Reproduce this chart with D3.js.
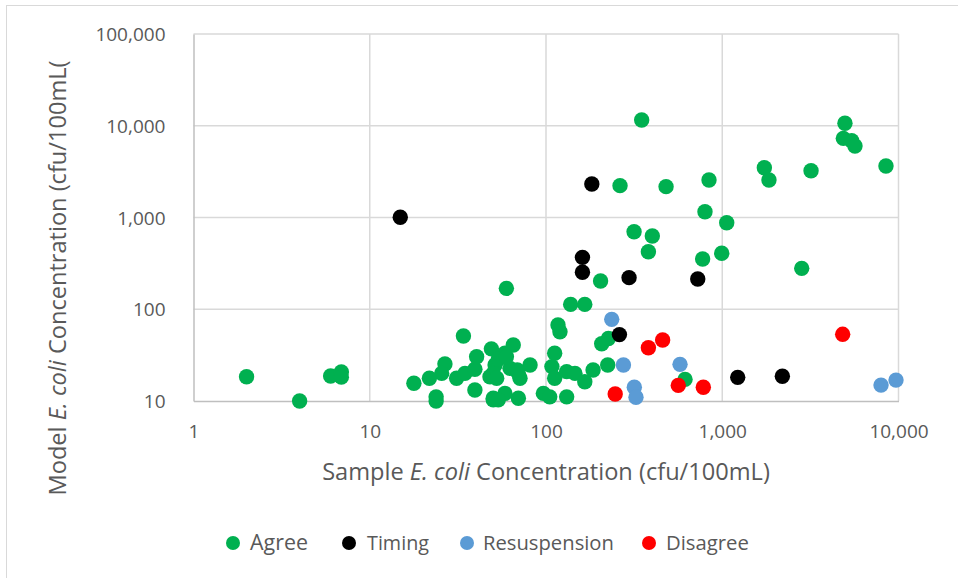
<!DOCTYPE html>
<html><head><meta charset="utf-8">
<script src="https://cdn.jsdelivr.net/npm/d3@7"></script>
<style>body{margin:0;background:#fff}svg{display:block}</style>
</head><body><svg id="c" width="958" height="578"></svg>
<script>
const seriesNames = ["Agree", "Timing", "Resuspension", "Disagree"];
const seriesColors = ["#00B050", "#000000", "#5B9BD5", "#FF0000"];
const xTicks = [1, 10, 100, 1000, 10000];
const yTicks = [10, 100, 1000, 10000, 100000];

const agree = [
  [2, 18.4], [4, 10], [6, 18.7], [6.9, 20.7], [6.9, 18.2],
  [17.8, 15.6], [21.8, 17.7], [23.8, 11.1], [23.8, 10], [26.7, 25.3],
  [25.6, 20.0], [31.1, 17.7], [34.0, 51.1], [34.7, 20.0], [39.5, 22.2],
  [40.4, 30.4], [49, 37], [39.5, 13.2], [48.1, 18.4], [50.2, 10.3],
  [51.4, 24.7], [58.5, 33.1], [65.2, 40.8], [50.2, 20.0], [52.5, 17.7],
  [62.5, 22.7], [69.7, 20.0], [71.2, 17.7], [81.2, 24.7], [58.5, 12.1],
  [50.2, 10.7], [69.7, 10.7], [96.6, 12.1], [105, 11.1], [112, 33.1],
  [108, 23.7], [112, 17.7], [117, 67.3], [120, 56.9], [131, 20.9],
  [146, 20.0], [166, 16.2], [185, 21.8], [131, 11.1], [207, 42],
  [224, 24.7], [226, 48], [53.6, 28.5], [59.6, 30.4], [68.7, 21.8],
  [53.6, 10.3], [59.6, 169], [138, 113], [166, 113], [204, 203],
  [349, 11570], [263, 2223], [480, 2168], [841, 2566], [798, 1157],
  [1060, 877], [316, 700], [401, 628], [381, 424], [774, 353],
  [993, 408], [2824, 279], [615, 17.2], [1733, 3491], [1841, 2566],
  [3190, 3235], [4968, 10640], [4864, 7290], [5423, 6870], [5663, 6010],
  [8490, 3640]
];
const timing = [
  [14.9, 1005], [182, 2317], [161, 368], [161, 253], [296, 221],
  [726, 214], [261, 52.9], [1224, 18.1], [2193, 18.6]
];
const resuspension = [
  [236, 77.6], [275, 24.7], [317, 14.1], [324, 11.0], [576, 25.1],
  [7960, 14.9], [9680, 16.9]
];
const disagree = [
  [247, 11.9], [381, 38.1], [459, 46.3], [563, 14.8], [781, 14.1], [4822, 53.3]
];
const seriesData = [agree, timing, resuspension, disagree];

const svg = d3.select("#c");
const fmt = d3.format(",");
const font = "'Open Sans', sans-serif";
const textCol = "#595959";

// chart border
svg.append("rect").attr("x", 6.5).attr("y", 5.5).attr("width", 1000).attr("height", 1000)
  .attr("fill", "none").attr("stroke", "#d9d9d9");

const L = 193.5, R = 898.5, T = 34, B = 401;
const x = d3.scaleLog().domain([1, 10000]).range([L, R]);
const y = d3.scaleLog().domain([10, 100000]).range([B, T]);

// gridlines
svg.append("g").selectAll("line").data(xTicks.slice(1)).join("line")
  .attr("x1", d => x(d)).attr("x2", d => x(d)).attr("y1", T).attr("y2", B)
  .attr("stroke", "#d9d9d9").attr("stroke-width", 1.5);
svg.append("g").selectAll("line").data(yTicks.slice(1)).join("line")
  .attr("x1", L).attr("x2", R).attr("y1", d => y(d)).attr("y2", d => y(d))
  .attr("stroke", "#d9d9d9").attr("stroke-width", 1.5);

// axes
const xAxis = svg.append("g").attr("transform", `translate(0,${B})`)
  .call(d3.axisBottom(x).tickValues(xTicks).tickFormat(fmt).tickSize(0).tickPadding(24));
const yAxis = svg.append("g").attr("transform", `translate(${L},0)`)
  .call(d3.axisLeft(y).tickValues(yTicks).tickFormat(fmt).tickSize(0).tickPadding(28));
[xAxis, yAxis].forEach(a => {
  a.select(".domain").attr("stroke", "#bfbfbf").attr("stroke-width", 1.5);
  a.selectAll("text").attr("font-family", font).attr("font-size", 19).attr("fill", textCol);
});
yAxis.selectAll("text").attr("dy", "0.35em");

// points
seriesData.forEach((data, i) => {
  svg.append("g").selectAll("circle").data(data).join("circle")
    .attr("cx", d => x(d[0])).attr("cy", d => y(d[1])).attr("r", 7.7)
    .attr("fill", seriesColors[i]);
});

// axis titles
function fitText(t, target) {
  let fs = 19;
  t.attr("font-size", fs);
  const w = t.node().getComputedTextLength();
  t.attr("font-size", fs * target / w);
}
const xt = svg.append("text").attr("x", 546).attr("y", 472).attr("dy", "0.35em")
  .attr("text-anchor", "middle").attr("font-family", font).attr("fill", textCol);
xt.append("tspan").text("Sample ");
xt.append("tspan").attr("font-style", "italic").text("E. coli");
xt.append("tspan").text(" Concentration (cfu/100mL)");
fitText(xt, 448);

const yt = svg.append("text").attr("transform", "translate(58,278) rotate(-90)").attr("dy", "0.35em")
  .attr("text-anchor", "middle").attr("font-family", font).attr("fill", textCol);
yt.append("tspan").text("Model ");
yt.append("tspan").attr("font-style", "italic").text("E. coli");
yt.append("tspan").text(" Concentration (cfu/100mL(");
fitText(yt, 435);

// legend
const legX = [233, 349, 467, 649];
const legTextX = [250, 367, 483, 666];
const legW = [58, 62, 131, 83];
const lg = svg.append("g");
seriesNames.forEach((n, i) => {
  lg.append("circle").attr("cx", legX[i]).attr("cy", 543).attr("r", 7).attr("fill", seriesColors[i]);
  const t = lg.append("text").attr("x", legTextX[i]).attr("y", 543).attr("dy", "0.35em")
    .attr("font-family", font).attr("fill", textCol).text(n);
  fitText(t, legW[i]);
});
</script></body></html>
